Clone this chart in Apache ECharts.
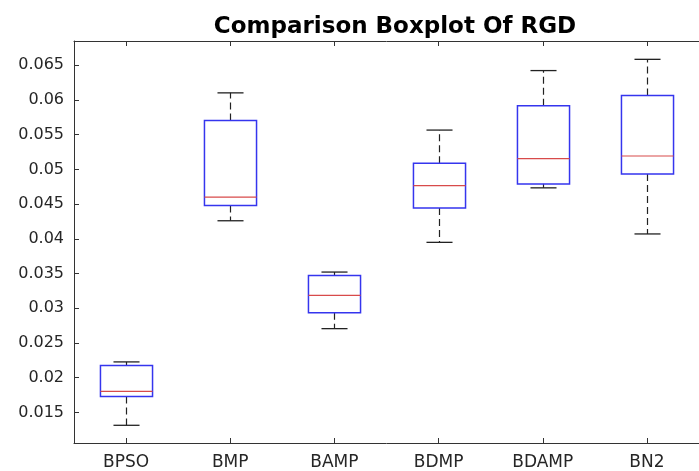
<!DOCTYPE html>
<html>
<head>
<meta charset="utf-8">
<script src="https://cdn.jsdelivr.net/npm/echarts@6/dist/echarts.min.js"></script>
<style>
  html, body { margin: 0; padding: 0; background: #fff; }
  #main { width: 699px; height: 471px; }
</style>
</head>
<body>
<div id="main"></div>
<script>
// 数据
var categories = ['BPSO', 'BMP', 'BAMP', 'BDMP', 'BDAMP', 'BN2'];
var whiskerLow  = [0.01315, 0.04261, 0.02707, 0.03950, 0.04735, 0.04071];
var quartile1   = [0.01731, 0.04481, 0.02937, 0.04444, 0.04792, 0.04936];
var medians     = [0.01803, 0.04602, 0.03185, 0.04768, 0.05155, 0.05194];
var quartile3   = [0.02176, 0.05706, 0.03472, 0.05089, 0.05916, 0.06065];
var whiskerHigh = [0.02228, 0.06103, 0.03522, 0.05567, 0.06424, 0.06586];
var yTicks = [0.015, 0.02, 0.025, 0.03, 0.035, 0.04, 0.045, 0.05, 0.055, 0.06, 0.065];
var yTickLabels = ['0.015', '0.02', '0.025', '0.03', '0.035', '0.04', '0.045', '0.05', '0.055', '0.06', '0.065'];

var boxData = categories.map(function (c, i) {
    return [i, whiskerLow[i], quartile1[i], medians[i], quartile3[i], whiskerHigh[i]];
});

var myChart = echarts.init(document.getElementById('main'));

// 画箱子 (MATLAB 风格)
function renderBox(params, api) {
    var x = api.value(0);
    var lo = api.coord([x, api.value(1)]);
    var q1 = api.coord([x, api.value(2)]);
    var md = api.coord([x, api.value(3)]);
    var q3 = api.coord([x, api.value(4)]);
    var hi = api.coord([x, api.value(5)]);
    var half = api.size([1, 0])[0] * 0.25;
    var cap = half * 0.5;
    var cx = Math.round(lo[0]) + 0.5;
    var whiskerStyle = { stroke: '#222', lineWidth: 1.2, lineDash: [7, 4] };
    var capStyle = { stroke: '#222', lineWidth: 1.3 };
    return {
        type: 'group',
        children: [
            { type: 'line', shape: { x1: cx, y1: q3[1], x2: cx, y2: hi[1] }, style: whiskerStyle },
            { type: 'line', shape: { x1: cx, y1: q1[1], x2: cx, y2: lo[1] }, style: whiskerStyle },
            { type: 'line', shape: { x1: cx - cap, y1: hi[1], x2: cx + cap, y2: hi[1] }, style: capStyle },
            { type: 'line', shape: { x1: cx - cap, y1: lo[1], x2: cx + cap, y2: lo[1] }, style: capStyle },
            { type: 'rect', shape: { x: cx - half, y: q3[1], width: half * 2, height: q1[1] - q3[1] },
              style: { fill: 'none', stroke: '#3535ee', lineWidth: 1.5 } },
            { type: 'line', shape: { x1: cx - half, y1: md[1], x2: cx + half, y2: md[1] },
              style: { stroke: '#d84a4a', lineWidth: 1.2 } }
        ]
    };
}

var option = {
    backgroundColor: '#fff',
    animation: false,
    title: {
        text: 'Comparison Boxplot Of RGD',
        left: 390,
        textAlign: 'center',
        top: 11,
        textStyle: {
            fontFamily: 'DejaVu Sans',
            fontWeight: 'bold',
            fontSize: 23,
            color: '#000'
        }
    },
    grid: { left: 74, top: 41, width: 632, height: 403 },
    xAxis: [{
        type: 'category',
        data: categories,
        position: 'bottom',
        boundaryGap: true,
        axisLine: { show: true, lineStyle: { color: '#333', width: 1 } },
        axisTick: { show: true, inside: true, length: 5, alignWithLabel: true, lineStyle: { color: '#333', width: 1 } },
        axisLabel: { margin: 11, fontFamily: 'DejaVu Sans', fontSize: 17, color: '#262626' },
        splitLine: { show: false }
    }, {
        type: 'category',
        data: categories,
        position: 'top',
        boundaryGap: true,
        axisLine: { show: true, lineStyle: { color: '#333', width: 1 } },
        axisTick: { show: true, inside: true, length: 5, alignWithLabel: true, lineStyle: { color: '#333', width: 1 } },
        axisLabel: { show: false },
        splitLine: { show: false }
    }],
    yAxis: {
        type: 'value',
        min: 0.0106,
        max: 0.0685,
        axisLine: { show: true, lineStyle: { color: '#333', width: 1 } },
        axisTick: { show: true, inside: true, length: 5, customValues: yTicks, lineStyle: { color: '#333', width: 1 } },
        axisLabel: {
            customValues: yTicks,
            margin: 10,
            fontFamily: 'DejaVu Sans',
            fontSize: 16,
            color: '#262626',
            formatter: function (v) {
                var i = yTicks.indexOf(v);
                return i >= 0 ? yTickLabels[i] : '';
            }
        },
        splitLine: { show: false }
    },
    series: [{
        type: 'custom',
        renderItem: renderBox,
        encode: { x: 0, y: [1, 2, 3, 4, 5] },
        data: boxData
    }]
};

myChart.setOption(option);
</script>
</body>
</html>
